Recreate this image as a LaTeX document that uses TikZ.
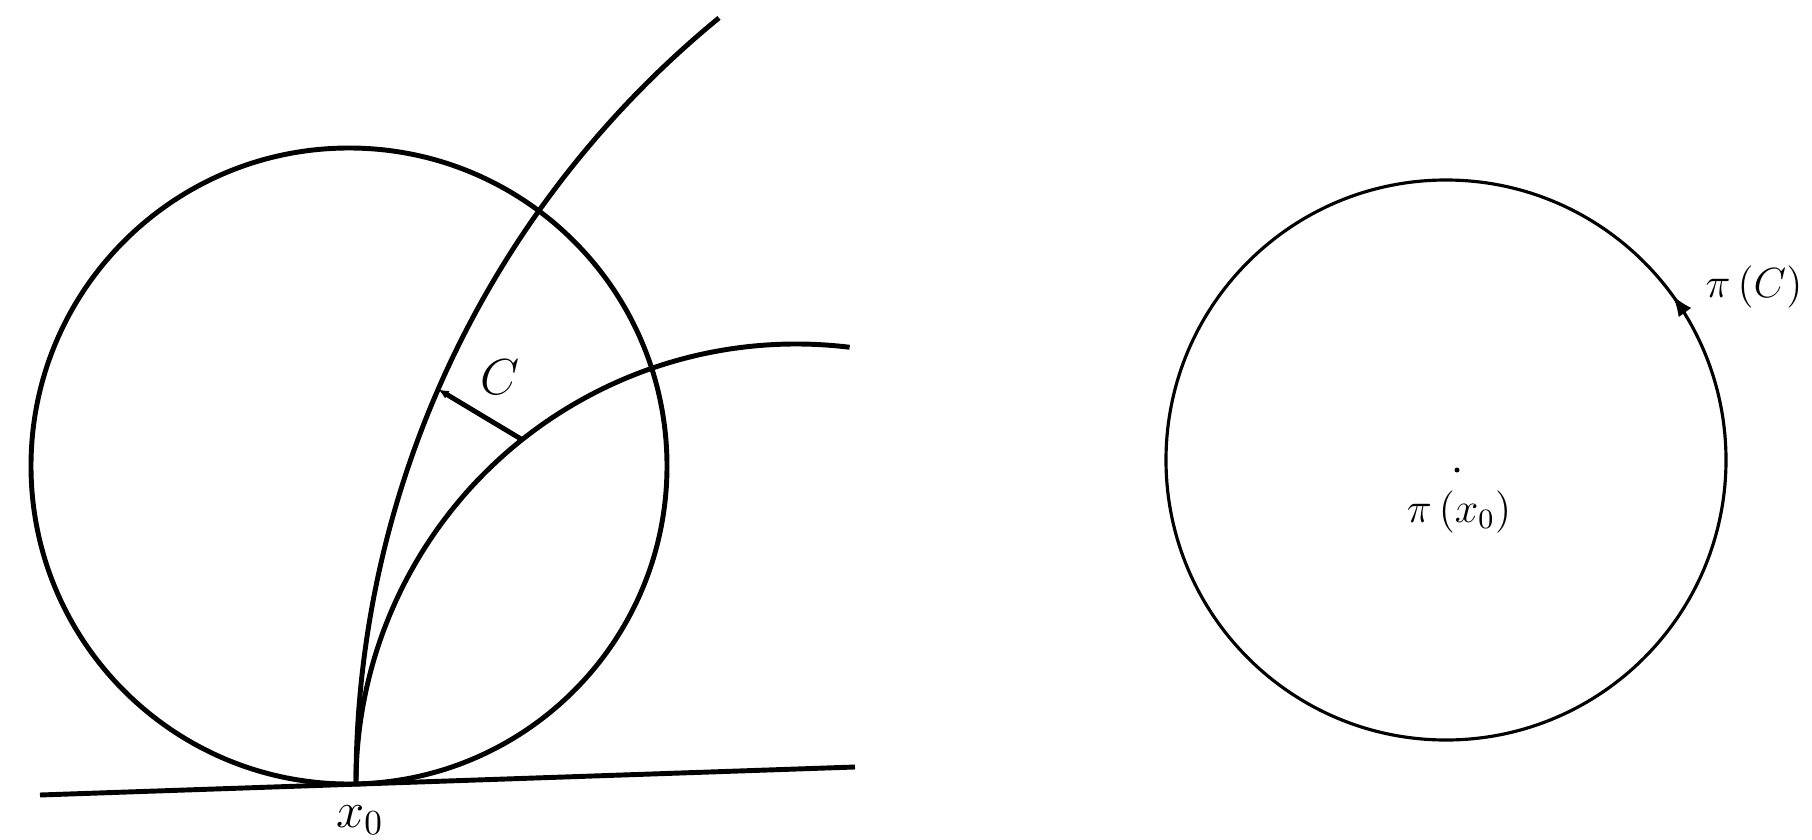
\documentclass[tikz,border=0pt]{standalone}
\usepackage{amsmath,amssymb}
\usepackage{tikz}
\usetikzlibrary{arrows.meta,calc,decorations.markings}

\begin{document}
\begin{tikzpicture}[
    curve/.style={line width=1.4pt},
    image curve/.style={line width=0.9pt},
    lbl/.style={inner sep=1pt, font=\large}
]
    \useasboundingbox (0,0) rectangle (18.12,8.39);
    \coordinate (x0) at (3.56,0.55);
    \coordinate (lc) at (3.49,3.73);
    \coordinate (rc) at (14.46,3.79);
    \coordinate (tl) at (0.40,0.44);
    \coordinate (tr) at (8.55,0.72);
    \draw[curve] (tl) -- (tr);
    \draw[curve] (lc) circle[radius=3.18];
    \draw[curve] (x0) arc[start angle=180, end angle=129.3, radius=9.9];
    \draw[curve] (x0) arc[start angle=180, end angle=83, radius=4.4];
    \coordinate (ca) at ($(x0)+(9.9,0)+(156.5:9.9)$);
    \coordinate (cb) at ($(x0)+(4.4,0)+(128.5:4.4)$);
    \draw[curve, -{Latex[length=3pt,width=2.5pt]}] (cb) -- (ca);
    \node[lbl, font=\Large] (C) at (5.00,4.62) {$C$};
    \node[lbl, font=\Large] (x0lbl) at (3.60,0.19) {$x_0$};
    \draw[image curve, postaction=decorate,
          decoration={markings, mark=at position 0.1 with {\arrow{Latex[length=6pt,width=4.5pt]}}}]
          (rc) circle[radius=2.8];
    \fill (14.57,3.69) coordinate (px0) circle[radius=0.025];
    \node[lbl] (pix0) at (14.59,3.27) {$\pi\,(x_0)$};
    \node[lbl] (piC) at (17.54,5.52) {$\pi\,(C)$};
\end{tikzpicture}
\end{document}
